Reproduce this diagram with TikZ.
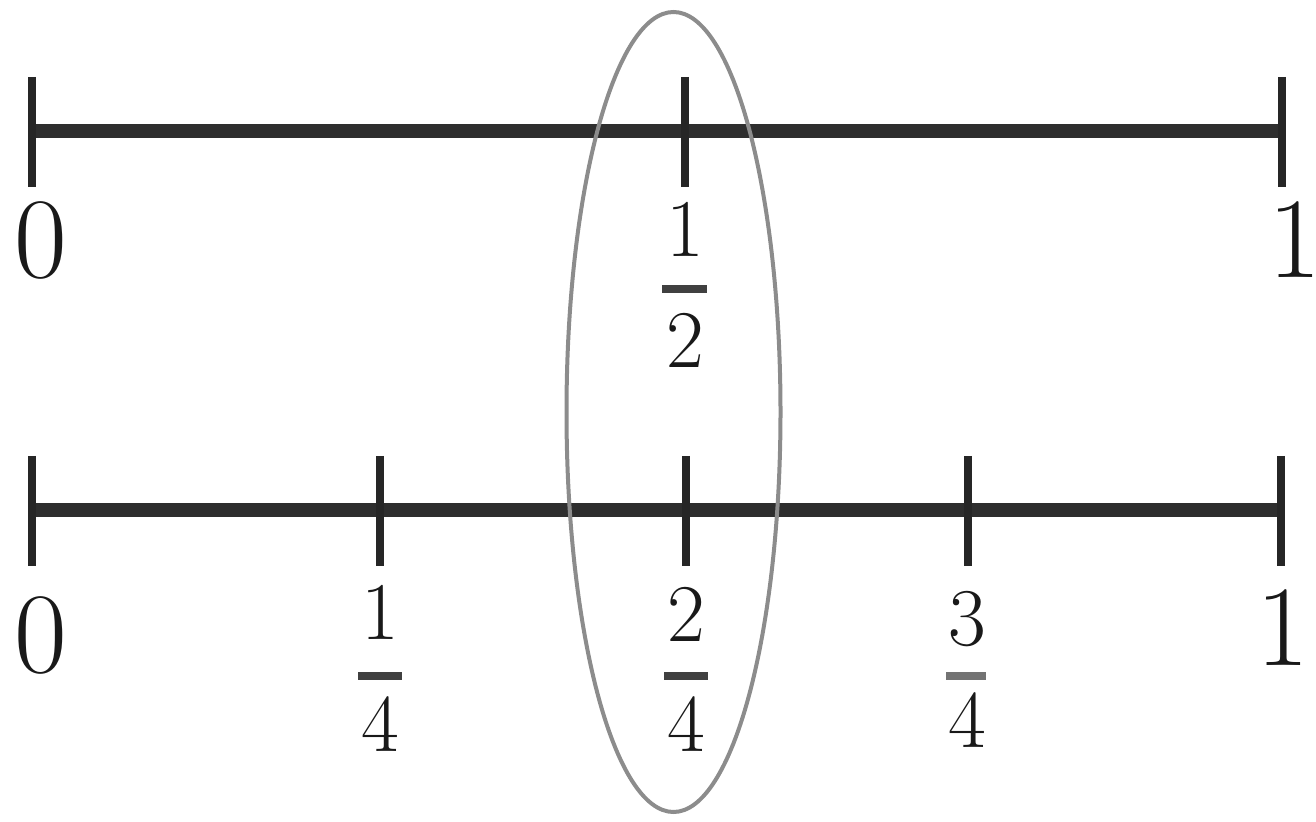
\documentclass[tikz,border=0pt]{standalone}
\usepackage{fontspec}
\begin{document}
\begin{tikzpicture}[x=0.25pt,y=-0.25pt,
  axisline/.style={line width=3.5pt,draw=black!82},
  tickline/.style={line width=2.2pt,draw=black!85},
  bigdigit/.style={inner sep=0pt,font=\fontsize{28.7}{30}\selectfont,text=black!90},
  smalldigit/.style={inner sep=0pt,font=\fontsize{20.5}{22}\selectfont,text=black!90},
  fracbar/.style={line width=2pt,draw=black!75},
  ring/.style={line width=1pt,draw=black!45}]
\useasboundingbox (0,0) rectangle (1316,822);
% top line
\coordinate (t0) at (32,131);
\coordinate (th) at (685,131);
\coordinate (t1) at (1282,131);
\draw[axisline] (t0) -- (t1);
\foreach \n in {t0,th,t1}{
  \draw[tickline] ([yshift=13.5pt]\n) -- ([yshift=-14pt]\n);
}
% bottom line
\coordinate (b0) at (32,510);
\coordinate (bq) at (380,510);
\coordinate (bh) at (686,510);
\coordinate (bt) at (968,510);
\coordinate (b1) at (1281,510);
\draw[axisline] (b0) -- (b1);
\foreach \n in {b0,bq,bh,bt,b1}{
  \draw[tickline] ([yshift=13.5pt]\n) -- ([yshift=-14pt]\n);
}
% labels top
\node[bigdigit] (lt0) at (41,240) {0};
\node[bigdigit] (lt1) at (1295,240) {1};
\node[smalldigit] (n1) at (685,229) {1};
\coordinate (bar1a) at (662,289);
\coordinate (bar1b) at (707,289);
\draw[fracbar] (bar1a) -- (bar1b);
\node[smalldigit] (d1) at (685,340) {2};
% labels bottom
\node[bigdigit] (lb0) at (41,635) {0};
\node[bigdigit] (lb1) at (1283,628) {1};
\node[smalldigit] (n2) at (380,612) {1};
\coordinate (bar2a) at (358,676);
\coordinate (bar2b) at (402,676);
\draw[fracbar] (bar2a) -- (bar2b);
\node[smalldigit] (d2) at (380,724) {4};
\node[smalldigit] (n3) at (686,614) {2};
\coordinate (bar3a) at (664,676);
\coordinate (bar3b) at (708,676);
\draw[fracbar] (bar3a) -- (bar3b);
\node[smalldigit] (d3) at (686,724) {4};
\node[smalldigit] (n4) at (967,619) {3};
\coordinate (bar4a) at (946,676);
\coordinate (bar4b) at (986,676);
\draw[fracbar,draw=black!55] (bar4a) -- (bar4b);
\node[smalldigit] (d4) at (967,720) {4};
% ellipse
\coordinate (ec) at (673.5,412);
\draw[ring] (ec) ellipse [x radius=26.75pt, y radius=100pt];
\end{tikzpicture}
\end{document}
